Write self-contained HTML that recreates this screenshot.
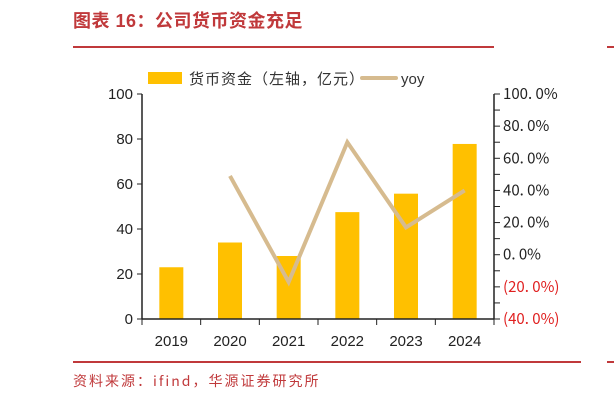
<!DOCTYPE html>
<html><head><meta charset="utf-8"><style>
body{margin:0;width:614px;height:400px;background:#fff;overflow:hidden;font-family:"Liberation Sans","Noto Sans CJK SC",sans-serif}
</style></head><body>
<svg width="614" height="400" xmlns="http://www.w3.org/2000/svg">
<text x="73" y="27" font-size="18" font-weight="bold" fill="#c0393b" letter-spacing="0.5" font-family="Liberation Sans,Noto Sans CJK SC,sans-serif">图表 16：公司货币资金充足</text>
<line x1="73" y1="47" x2="494" y2="47" stroke="#c0393b" stroke-width="2"/>
<line x1="607" y1="47" x2="614" y2="47" stroke="#c0393b" stroke-width="2"/>
<g>
<rect x="148" y="72" width="34" height="12" fill="#ffc000"/>
<text x="189" y="84" font-size="15" letter-spacing="1" fill="#333" font-family="Noto Sans CJK SC,sans-serif">货币资金（左轴，亿元）</text>
<line x1="362" y1="78" x2="396" y2="78" stroke="#d6bb8f" stroke-width="4" stroke-linecap="round"/>
<text x="401" y="84" font-size="15" fill="#333">yoy</text>
</g>
<g id="plot"></g>
<line x1="73" y1="362" x2="581" y2="362" stroke="#c0393b" stroke-width="2"/>
<line x1="607" y1="362" x2="614" y2="362" stroke="#c0393b" stroke-width="2"/>
<text x="73" y="386" font-size="14" letter-spacing="2" fill="#c0393b" font-family="Noto Sans CJK SC,sans-serif">资料来源：ifind，华源证券研究所</text>
</svg>
<script>
const categories=["2019","2020","2021","2022","2023","2024"];
const cashValues=[23,34,28,47.5,55.7,77.8];
const yoyValues=[null,49,-17,70,17,40];
const leftTicks=[0,20,40,60,80,100];
const rightTicks=[100,80,60,40,20,0,-20,-40];
const NS="http://www.w3.org/2000/svg";
const g=document.getElementById('plot');
const X0=142,X1=494,Y0=319,Y1=94;
const band=(X1-X0)/categories.length;
const xc=i=>X0+band*(i+0.5);
const yL=v=>Y0-(v-0)/(100-0)*(Y0-Y1);
const yR=v=>Y0-(v+40)/(140)*(Y0-Y1);
function mk(t,a){const e=document.createElementNS(NS,t);for(const k in a)e.setAttribute(k,a[k]);g.appendChild(e);return e;}
cashValues.forEach((v,i)=>{const r=mk('rect',{x:xc(i)-12,y:yL(v),width:24,height:Y0-yL(v),fill:'#ffc000'});

});
let pts=[];yoyValues.forEach((v,i)=>{if(v!==null)pts.push(xc(i)+','+yR(v));});
const pl=mk('polyline',{points:pts.join(' '),fill:'none',stroke:'#d6bb8f','stroke-width':4,'stroke-linejoin':'miter'});


const la=mk('line',{x1:X0,y1:Y1,x2:X0,y2:Y0,stroke:'#222','stroke-width':1.5});


const ra=mk('line',{x1:X1,y1:Y1,x2:X1,y2:Y0,stroke:'#222','stroke-width':1.5});


const xa=mk('line',{x1:X0,y1:Y0,x2:X1,y2:Y0,stroke:'#222','stroke-width':1.5});


leftTicks.forEach(v=>{mk('line',{x1:X0-5,y1:yL(v),x2:X0,y2:yL(v),stroke:'#222'});
const t=mk('text',{x:X0-9,y:yL(v)+5,'font-size':15,'text-anchor':'end',fill:'#222'});t.textContent=v;

});
for(let v=-40;v<=100;v+=10){mk('line',{x1:X1,y1:yR(v),x2:X1+6,y2:yR(v),stroke:'#222'});}
rightTicks.forEach(v=>{const neg=v<0;const t=mk('text',{x:X1+9,y:yR(v)+5,'font-size':15,fill:neg?'#e02020':'#222','font-family':'Noto Sans CJK SC,sans-serif'});
t.textContent=neg?'('+Math.abs(v).toFixed(1).replace('.','. ')+'%)':v.toFixed(1).replace('.','. ')+'%';

});
categories.forEach((c,i)=>{mk('line',{x1:X0+band*i,y1:Y0,x2:X0+band*i,y2:Y0+6,stroke:'#222'});
const t=mk('text',{x:xc(i),y:Y0+27,'font-size':15,'text-anchor':'middle',fill:'#222'});t.textContent=c;

});
mk('line',{x1:X1,y1:Y0,x2:X1,y2:Y0+6,stroke:'#222'});
</script>
</body></html>
